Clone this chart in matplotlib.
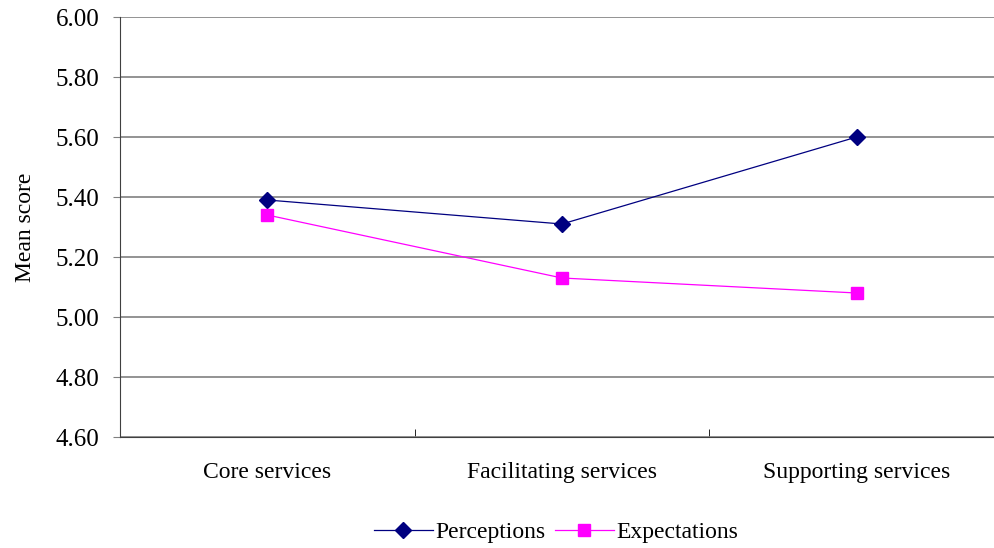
import matplotlib
matplotlib.use("Agg")
import matplotlib.pyplot as plt
import numpy as np

categories = ["Core services", "Facilitating services", "Supporting services"]
perceptions = [5.39, 5.31, 5.60]
expectations = [5.34, 5.13, 5.08]
y_ticks = [4.60, 4.80, 5.00, 5.20, 5.40, 5.60, 5.80, 6.00]

plt.rcParams['font.family'] = ['Liberation Serif', 'DejaVu Serif']

fig = plt.figure(figsize=(9.95, 5.48), dpi=100)
ax = fig.add_axes([120/995, 1-437/548, (1004-120)/995, (437-17)/548])

x = np.arange(len(categories))
ax.plot(x, perceptions, color='#000080', lw=0.9, marker='D', ms=8.5,
        label='Perceptions', clip_on=False, zorder=3)
ax.plot(x, expectations, color='#FF00FF', lw=0.9, marker='s', ms=8.5,
        label='Expectations', clip_on=False, zorder=3)

ax.set_xlim(-0.5, 2.5)
ax.set_ylim(4.60, 6.00)
ax.set_yticks(y_ticks)
ax.set_yticklabels([f"{v:.2f}" for v in y_ticks], fontsize=18)
ax.yaxis.grid(True, color='#808080', lw=1.2)
ax.set_axisbelow(True)

ax.set_xticks(x)
ax.set_xticklabels(categories, fontsize=17)
ax.tick_params(axis='x', length=0, pad=18)
ax.set_xticks([0.5, 1.5], minor=True)
ax.tick_params(axis='x', which='minor', direction='in', length=6, color='black')
ax.tick_params(axis='y', direction='out', length=5, color='#808080', pad=10)

for s in ['top', 'right']:
    ax.spines[s].set_visible(False)
ax.spines['left'].set_color('#404040')
ax.spines['bottom'].set_color('#404040')

ax.set_ylabel("Mean score", fontsize=17, labelpad=14)

fig.legend(loc='center', bbox_to_anchor=(556/995, 1-532/548), ncol=2,
           frameon=False, fontsize=17, handlelength=2.5, handletextpad=0.1,
           columnspacing=0.4)

fig.savefig("out.png", dpi=100)
